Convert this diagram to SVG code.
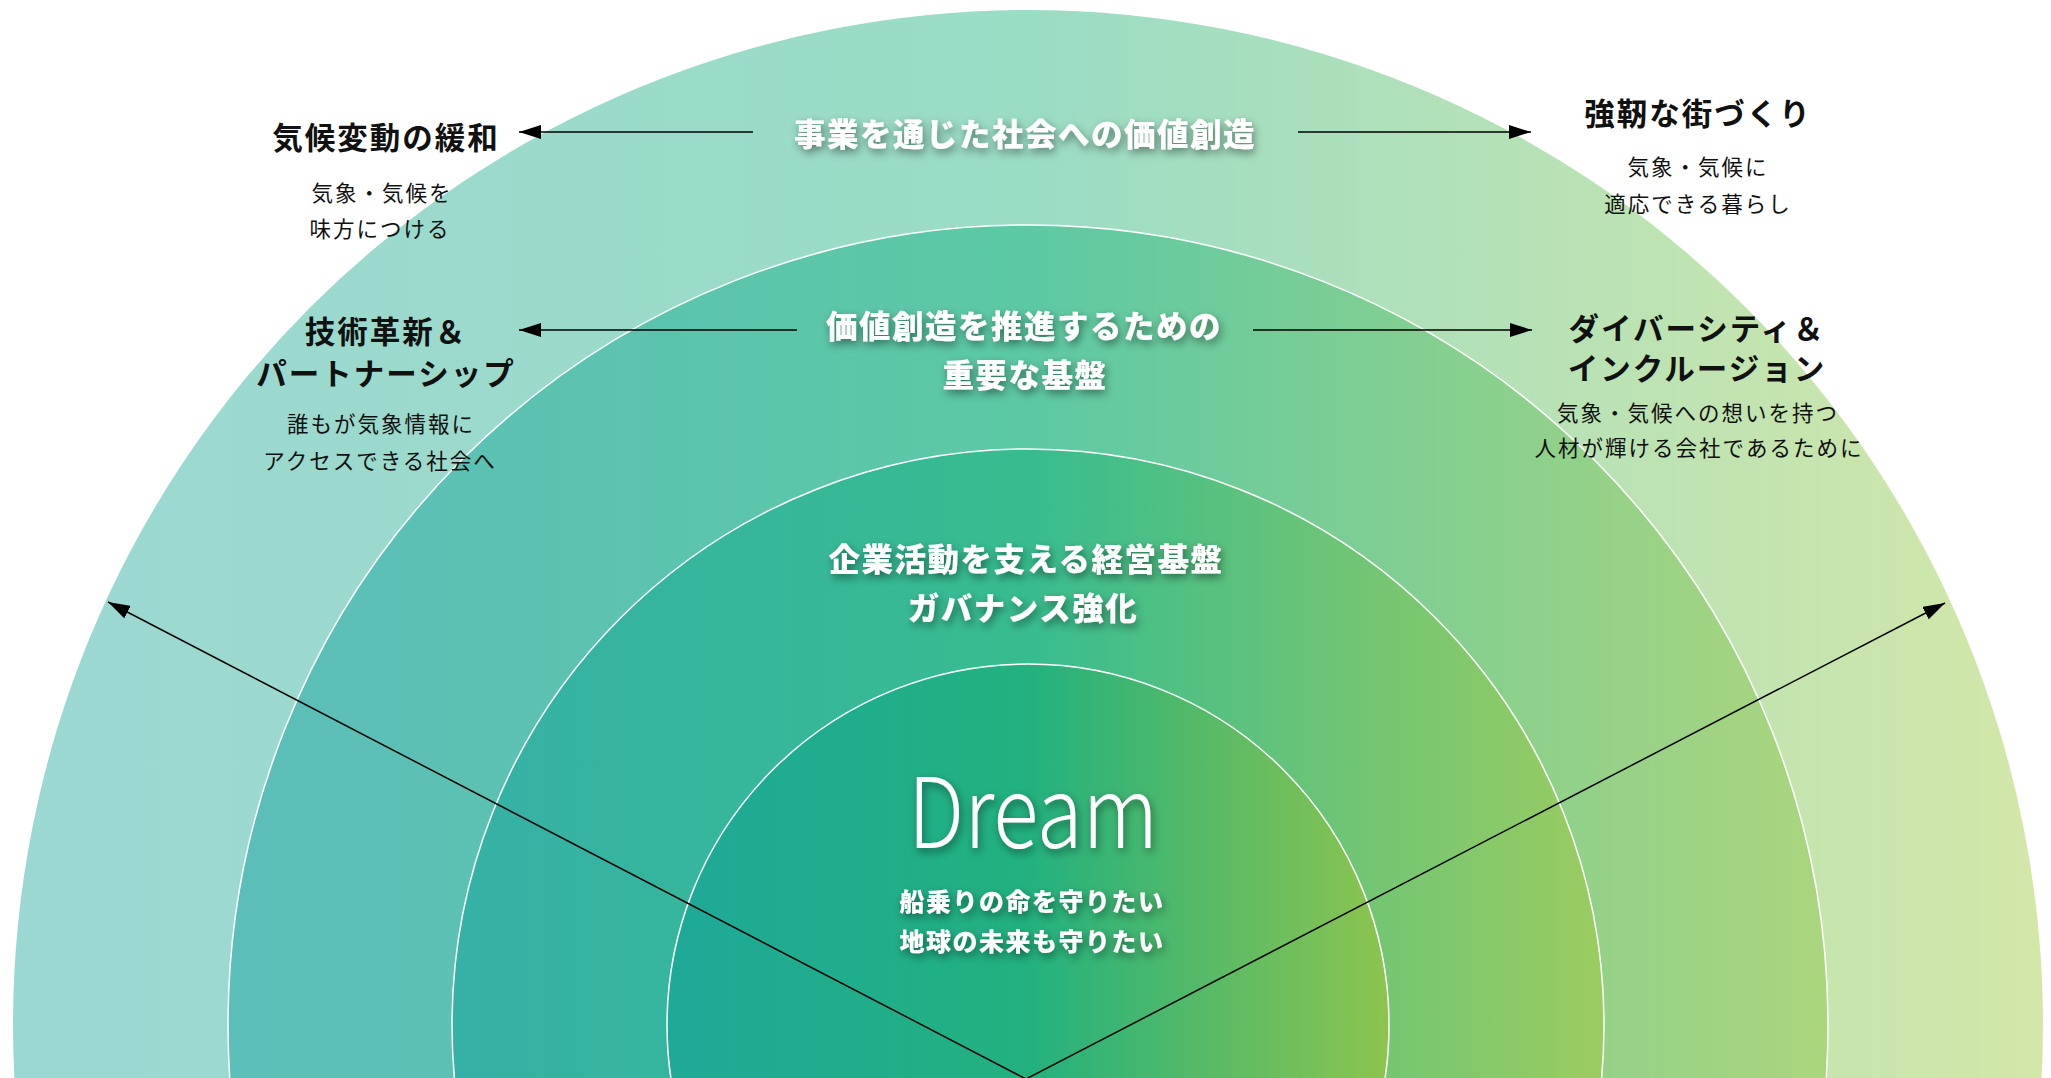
<svg xmlns="http://www.w3.org/2000/svg" width="2051" height="1078" viewBox="0 0 2051 1078">
<defs>
<linearGradient id="g1" gradientUnits="userSpaceOnUse" x1="13" y1="0" x2="2043" y2="0">
<stop offset="0" stop-color="#9cd8d3"/><stop offset="0.5" stop-color="#9adcc4"/><stop offset="1" stop-color="#d3e7a8"/>
</linearGradient>
<linearGradient id="g2" gradientUnits="userSpaceOnUse" x1="228" y1="0" x2="1828" y2="0">
<stop offset="0" stop-color="#5bbeb9"/><stop offset="0.5" stop-color="#5cc9a4"/><stop offset="1" stop-color="#abd57d"/>
</linearGradient>
<linearGradient id="g3" gradientUnits="userSpaceOnUse" x1="452" y1="0" x2="1604" y2="0">
<stop offset="0" stop-color="#35b1a6"/><stop offset="0.5" stop-color="#37bc8f"/><stop offset="1" stop-color="#9bcc60"/>
</linearGradient>
<linearGradient id="g4" gradientUnits="userSpaceOnUse" x1="667" y1="0" x2="1389" y2="0">
<stop offset="0" stop-color="#1ea998"/><stop offset="0.5" stop-color="#22b17f"/><stop offset="1" stop-color="#8dc44e"/>
</linearGradient>
<filter id="sh" x="-20%" y="-50%" width="140%" height="200%">
<feDropShadow dx="2" dy="4" stdDeviation="4" flood-color="#000" flood-opacity="0.45"/>
</filter>
<marker id="ah" markerUnits="userSpaceOnUse" markerWidth="24" markerHeight="14" refX="22" refY="7" orient="auto">
<path d="M0,0 L22,7 L0,14 z" fill="#000"/>
</marker>
</defs>
<style>
.ring{stroke:#fff;stroke-width:1.5}
.lbl{font-family:"Noto Sans CJK JP","Noto Sans",sans-serif;font-weight:900;font-size:31.5px;letter-spacing:1.5px;fill:#fff;text-anchor:middle;filter:url(#sh)}
.sub{font-family:"Noto Sans CJK JP","Noto Sans",sans-serif;font-weight:900;font-size:25px;letter-spacing:1.5px;fill:#fff;text-anchor:middle;filter:url(#sh)}
.hd{font-family:"Noto Sans CJK JP","Noto Sans",sans-serif;font-weight:700;font-size:30.5px;letter-spacing:2px;fill:#111;text-anchor:middle}
.tx{font-family:"Noto Sans CJK JP","Noto Sans",sans-serif;font-weight:400;font-size:21.5px;letter-spacing:2px;fill:#111;text-anchor:middle}
.ln{stroke:#000;stroke-width:1.5;fill:none;marker-end:url(#ah)}
</style>
<rect width="2051" height="1078" fill="#fff"/>
<g id="ring-outer">
<circle cx="1028" cy="1025" r="1015" fill="url(#g1)"/>
<text class="lbl" x="1025" y="146">事業を通じた社会への価値創造</text>
</g>
<g id="ring-2">
<circle class="ring" cx="1028" cy="1025" r="800" fill="url(#g2)"/>
<text class="lbl" x="1024" y="338">価値創造を推進するための</text>
<text class="lbl" x="1025" y="387">重要な基盤</text>
</g>
<g id="ring-3">
<circle class="ring" cx="1028" cy="1025" r="576" fill="url(#g3)"/>
<text class="lbl" x="1026" y="571">企業活動を支える経営基盤</text>
<text class="lbl" x="1023" y="620">ガバナンス強化</text>
</g>
<g id="ring-inner">
<circle class="ring" cx="1028" cy="1025" r="361" fill="url(#g4)"/>
<text x="1033" y="848" font-family="'Noto Sans CJK JP','Noto Sans',sans-serif" font-weight="300" font-size="98" fill="#fff" text-anchor="middle" textLength="250" lengthAdjust="spacingAndGlyphs" filter="url(#sh)">Dream</text>
<text class="sub" x="1032" y="911">船乗りの命を守りたい</text>
<text class="sub" x="1032" y="951">地球の未来も守りたい</text>
</g>
<g id="node-climate">
<text class="hd" x="386" y="149">気候変動の緩和</text>
<text class="tx" x="382" y="201">気象・気候を</text>
<text class="tx" x="380" y="237">味方につける</text>
</g>
<g id="node-city">
<text class="hd" x="1698" y="125">強靭な街づくり</text>
<text class="tx" x="1698" y="175">気象・気候に</text>
<text class="tx" x="1698" y="212">適応できる暮らし</text>
</g>
<g id="node-tech">
<text class="hd" x="386" y="343">技術革新＆</text>
<text class="hd" x="386" y="385">パートナーシップ</text>
<text class="tx" x="381" y="432">誰もが気象情報に</text>
<text class="tx" x="380" y="469">アクセスできる社会へ</text>
</g>
<g id="node-diversity">
<text class="hd" x="1697" y="340">ダイバーシティ＆</text>
<text class="hd" x="1697" y="380">インクルージョン</text>
<text class="tx" x="1698" y="421">気象・気候への想いを持つ</text>
<text class="tx" x="1699" y="456">人材が輝ける会社であるために</text>
</g>
<g id="connectors">
<line class="ln" x1="753" y1="132" x2="519" y2="132"/>
<line class="ln" x1="1298" y1="132" x2="1531" y2="132"/>
<line class="ln" x1="797" y1="330" x2="519" y2="330"/>
<line class="ln" x1="1253" y1="330" x2="1532" y2="330"/>
<line class="ln" x1="1026" y1="1079" x2="108" y2="602"/>
<line class="ln" x1="1026" y1="1079" x2="1945" y2="603"/>
</g>
</svg>
